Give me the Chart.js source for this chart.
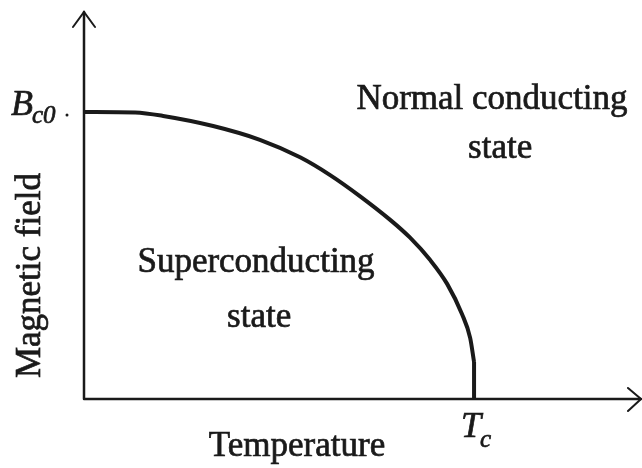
<!DOCTYPE html>
<html>
<head>
<meta charset="utf-8">
<script src="https://cdn.jsdelivr.net/npm/chart.js@4.4.1/dist/chart.umd.min.js"></script>
<style>
  html, body { margin: 0; padding: 0; background: #ffffff; }
  #wrap { width: 642px; height: 468px; position: relative; }
</style>
</head>
<body>
<div id="wrap"><canvas id="phase"></canvas></div>
<script>
// Critical field curve of a type-I superconductor (reduced units: T/Tc, B/Bc0)
const temperature   = [0, 0.131, 0.203, 0.331, 0.451, 0.554, 0.631, 0.708, 0.785, 0.836, 0.887, 0.931, 0.969, 0.990, 1.000];
const criticalField = [1, 0.998, 0.986, 0.951, 0.903, 0.842, 0.780, 0.706, 0.624, 0.562, 0.485, 0.401, 0.296, 0.213, 0.129];
// The curve meets the temperature axis vertically at Tc
const dropAtTc = [{ x: 1.0, y: 0.129 }, { x: 1.0, y: 0 }];

// Axis reach (arrow tips) and the marked values on each axis
const axisMax = { x: 1.428, y: 1.348 };
const xTickValues = [1];
const yTickValues = [1];
const xTickLabels = [{ main: 'T', sub: 'c' }];
const yTickLabels = [{ main: 'B', sub: 'c0' }];

// Region labels (centre x and baseline y of each line, in data units)
const regionLabels = [
  { lines: ['Normal conducting', 'state'], x: [1.046, 1.067], y: [1.01, 0.84] },
  { lines: ['Superconducting', 'state'], x: [0.441, 0.449], y: [0.4425, 0.251] }
];
const axisTitles = { x: 'Temperature', y: 'Magnetic field' };

const INK = '#1a1a1a';
const SERIF = '"Liberation Serif", "DejaVu Serif", serif';

function inkText(ctx, text, px, py) {
  ctx.fillText(text, px, py);
  ctx.strokeText(text, px, py);
}

const decorations = {
  id: 'decorations',
  afterDatasetsDraw(chart) {
    const { ctx, scales: { x, y } } = chart;
    const x0 = x.getPixelForValue(0), y0 = y.getPixelForValue(0);
    const xEnd = x.getPixelForValue(axisMax.x), yEnd = y.getPixelForValue(axisMax.y);
    ctx.save();
    ctx.strokeStyle = INK;
    ctx.lineWidth = 2.5;
    ctx.lineCap = 'round';
    // axes
    ctx.beginPath();
    ctx.moveTo(x0, y0); ctx.lineTo(x0, yEnd);
    ctx.moveTo(x0, y0); ctx.lineTo(xEnd, y0);
    ctx.stroke();
    // open arrowheads
    ctx.lineWidth = 2;
    ctx.beginPath();
    ctx.moveTo(x0 - 11, yEnd + 15); ctx.lineTo(x0, yEnd); ctx.lineTo(x0 + 11, yEnd + 15);
    ctx.moveTo(xEnd - 13, y0 - 11); ctx.lineTo(xEnd, y0); ctx.lineTo(xEnd - 13, y0 + 12);
    ctx.stroke();

    ctx.fillStyle = INK;
    ctx.lineWidth = 0.7;
    ctx.textBaseline = 'alphabetic';
    ctx.textAlign = 'left';
    // y tick label (B_c0)
    yTickValues.forEach((v, i) => {
      const py = y.getPixelForValue(v);
      const lab = yTickLabels[i];
      ctx.font = 'italic 36px ' + SERIF;
      inkText(ctx, lab.main, 11, py + 3);
      const w = ctx.measureText(lab.main).width;
      ctx.font = 'italic 25px ' + SERIF;
      inkText(ctx, lab.sub, 11 + w - 1, py + 11);
      ctx.beginPath();
      ctx.arc(x0 - 17, py + 3, 1.5, 0, Math.PI * 2);
      ctx.fill();
    });
    // x tick label (T_c)
    xTickValues.forEach((v, i) => {
      const px = x.getPixelForValue(v);
      const lab = xTickLabels[i];
      ctx.font = 'italic 36px ' + SERIF;
      inkText(ctx, lab.main, px - 13, y0 + 38);
      const w = ctx.measureText(lab.main).width;
      ctx.font = 'italic 25px ' + SERIF;
      inkText(ctx, lab.sub, px - 13 + w - 1, y0 + 48);
    });

    // region labels
    ctx.font = '35px ' + SERIF;
    ctx.textAlign = 'center';
    regionLabels.forEach(r => {
      r.lines.forEach((t, k) => {
        inkText(ctx, t, x.getPixelForValue(r.x[k]), y.getPixelForValue(r.y[k]));
      });
    });

    // axis titles
    inkText(ctx, axisTitles.x, 297, y0 + 57);
    ctx.save();
    ctx.translate(40, y.getPixelForValue(0.43));
    ctx.rotate(-Math.PI / 2);
    inkText(ctx, axisTitles.y, 0, 0);
    ctx.restore();
    ctx.restore();
  }
};

new Chart(document.getElementById('phase'), {
  type: 'scatter',
  data: {
    datasets: [{
      data: temperature.map((t, i) => ({ x: t, y: criticalField[i] })),
      showLine: true,
      borderColor: INK,
      borderWidth: 4,
      pointRadius: 0,
      cubicInterpolationMode: 'monotone',
      fill: false
    }, {
      data: dropAtTc,
      showLine: true,
      borderColor: INK,
      borderWidth: 4,
      pointRadius: 0,
      fill: false
    }]
  },
  options: {
    responsive: true,
    maintainAspectRatio: false,
    animation: false,
    layout: { padding: { left: 84, right: 1, top: 12, bottom: 69 } },
    plugins: { legend: { display: false }, tooltip: { enabled: false } },
    scales: {
      x: { type: 'linear', min: 0, max: axisMax.x, display: false },
      y: { type: 'linear', min: 0, max: axisMax.y, display: false }
    }
  },
  plugins: [decorations]
});
</script>
</body>
</html>
